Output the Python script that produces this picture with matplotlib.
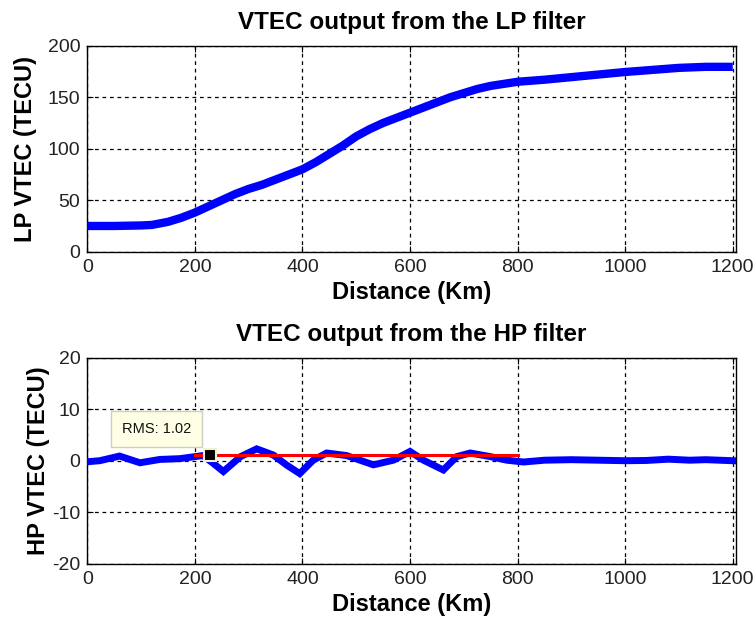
import matplotlib
matplotlib.use("Agg")
import matplotlib.pyplot as plt

plt.rcParams['axes.unicode_minus'] = False

# Low-pass filtered VTEC profile
lp_dist = [0, 50, 100, 120, 150, 175, 200, 225, 250, 275, 300, 325, 350, 375,
           400, 425, 450, 475, 500, 525, 550, 575, 600, 625, 650, 675, 700,
           725, 750, 775, 800, 850, 900, 950, 1000, 1050, 1100, 1150, 1200]
lp_vtec = [25, 25, 25.5, 26, 29, 33, 38, 44, 50, 56, 61, 65, 70, 75,
           80, 87, 95, 103, 112, 119, 125, 130, 135, 140, 145, 150, 154,
           158, 161, 163, 165, 167, 169.5, 172, 174.5, 176.5, 178.5, 179.5, 179.5]

# High-pass filtered VTEC residuals
hp_dist = [0, 23, 60, 98, 135, 172, 197, 215, 234, 253, 285, 315, 346, 370,
           395, 420, 445, 482, 532, 569, 600, 625, 662, 687, 712, 749, 780,
           811, 850, 900, 950, 1000, 1040, 1080, 1120, 1150, 1200]
hp_vtec = [-0.2, 0.0, 0.9, -0.4, 0.25, 0.4, 0.75, 1.0, -0.5, -2.1, 0.8, 2.3, 1.1, -0.8,
           -2.5, 0.1, 1.5, 1.0, -0.8, 0.1, 1.8, 0.1, -1.8, 0.8, 1.5, 0.8, 0.1,
           -0.25, 0.1, 0.2, 0.1, 0.0, 0.05, 0.3, 0.1, 0.2, 0.0]

# RMS of the residuals over the 200-800 km window
rms_value = 1.02
rms_start, rms_end = 200, 800
tip_dist = 228

x_ticks = [0, 200, 400, 600, 800, 1000, 1200]
lp_ticks = [0, 50, 100, 150, 200]
hp_ticks = [-20, -10, 0, 10, 20]

font = ['Liberation Sans', 'DejaVu Sans']

fig = plt.figure(figsize=(7.55, 6.22), dpi=100, facecolor='white')
ax1 = fig.add_axes([0.1156, 0.5953, 0.8592, 0.3312])
ax2 = fig.add_axes([0.1156, 0.0937, 0.8592, 0.3312])


def style(ax, yticks, ylim, title, ylabel, ylabel_x):
    ax.set_xlim(0, 1206)
    ax.set_ylim(*ylim)
    ax.set_xticks(x_ticks)
    ax.set_yticks(yticks)
    ax.grid(True, color='black', linestyle=(0, (3, 3)), linewidth=0.9)
    ax.tick_params(direction='in', length=4, width=0.8, top=True, right=True,
                   labelsize=14, colors='black', pad=5)
    for lab in ax.get_xticklabels() + ax.get_yticklabels():
        lab.set_family(font)
        lab.set_color('#222222')
    for s in ax.spines.values():
        s.set_linewidth(1.0)
        s.set_color('black')
    ax.set_title(title, family=font, fontweight='bold', fontsize=17.5, pad=12)
    ax.set_xlabel('Distance (Km)', family=font, fontweight='bold',
                  fontsize=17, labelpad=4)
    ax.set_ylabel(ylabel, family=font, fontweight='bold', fontsize=17)
    ax.yaxis.set_label_coords(ylabel_x, 0.5)


ax1.plot(lp_dist, lp_vtec, color='#0000ff', linewidth=6, solid_capstyle='butt',
         zorder=3)
style(ax1, lp_ticks, (0, 200), 'VTEC output from the LP filter', 'LP VTEC (TECU)',
      -0.077)

ax2.plot(hp_dist, hp_vtec, color='#0000ff', linewidth=5, solid_joinstyle='miter',
         zorder=3)
ax2.plot([rms_start, rms_end], [rms_value, rms_value], color='#ff0000',
         linewidth=2.2, zorder=4)
ax2.plot([tip_dist], [rms_value], marker='s', markersize=9, color='black',
         markeredgecolor='#f5f0c8', markeredgewidth=1.5, zorder=6)
ax2.annotate(f'RMS: {rms_value:.2f}', xy=(tip_dist, rms_value),
             xytext=(129, 6.2), ha='center', va='center', fontsize=10.5,
             family=font, color='#111111', zorder=7,
             bbox=dict(boxstyle='square,pad=0.75', facecolor='#ffffe6',
                       edgecolor='#cfcfc0', linewidth=1.0))
style(ax2, hp_ticks, (-20, 20), 'VTEC output from the HP filter', 'HP VTEC (TECU)',
      -0.058)

fig.savefig('out.png', dpi=100, facecolor='white')
